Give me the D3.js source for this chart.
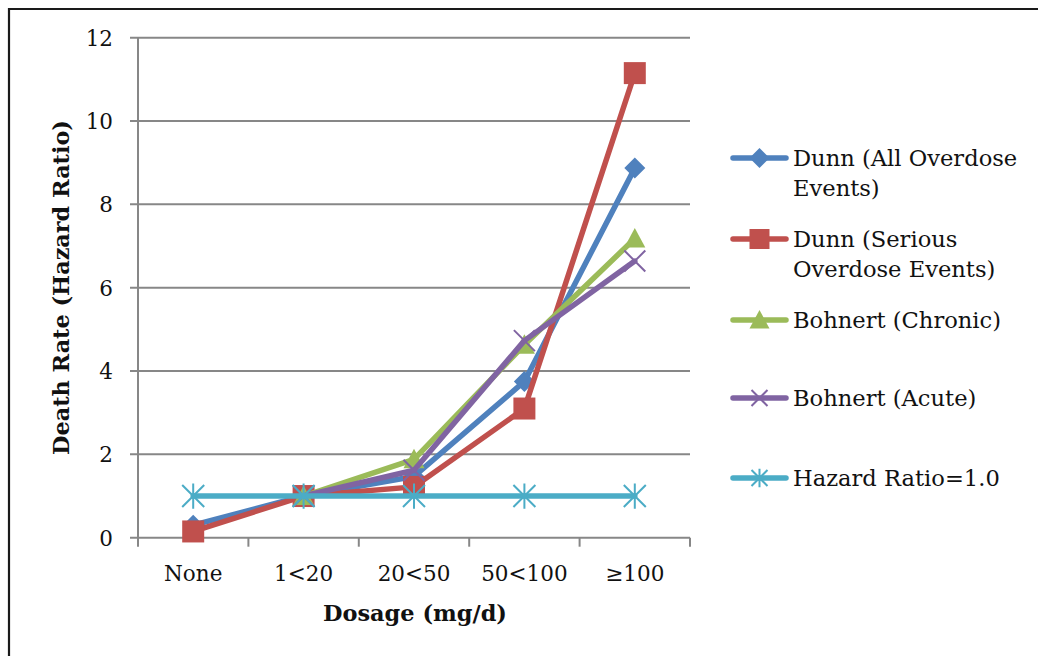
<!DOCTYPE html>
<html><head><meta charset="utf-8">
<script src="https://cdn.jsdelivr.net/npm/d3@7"></script>
<style>body{margin:0;background:#fff}svg{display:block}</style>
</head><body>
<svg id="c" width="1038" height="656"></svg>
<script>
const categories = ["None","1<20","20<50","50<100","\u2265100"];
const dunnAll = [0.3, 1.0, 1.47, 3.75, 8.87];
const dunnSerious = [0.15, 1.0, 1.22, 3.1, 11.15];
const bohnertChronic = [null, 1.0, 1.88, 4.63, 7.18];
const bohnertAcute = [null, 1.0, 1.62, 4.73, 6.64];
const hazardRef = [1, 1, 1, 1, 1];
const yTicks = [0,2,4,6,8,10,12];
const seriesNames = ["Dunn (All Overdose Events)","Dunn (Serious Overdose Events)","Bohnert (Chronic)","Bohnert (Acute)","Hazard Ratio=1.0"];
const legendLines = [["Dunn (All Overdose","Events)"],["Dunn (Serious","Overdose Events)"],["Bohnert (Chronic)"],["Bohnert (Acute)"],["Hazard Ratio=1.0"]];

const series = [
  {name:seriesNames[0], values:dunnAll, color:"#4F81BD", marker:"diamond"},
  {name:seriesNames[1], values:dunnSerious, color:"#C0504D", marker:"square"},
  {name:seriesNames[2], values:bohnertChronic, color:"#9BBB59", marker:"triangle"},
  {name:seriesNames[3], values:bohnertAcute, color:"#8064A2", marker:"x"},
  {name:seriesNames[4], values:hazardRef, color:"#4BACC6", marker:"star"}
];

const svg = d3.select("#c");
const font = "'DejaVu Serif', 'Liberation Serif', serif";
const m = {left:138, right:690, top:37.7, bottom:537.7};
const x = d3.scaleBand().domain(categories).range([m.left, m.right]);
const y = d3.scaleLinear().domain([0,12]).range([m.bottom, m.top]);

function fit(sel, target){
  const n = sel.node(); const w = n.getComputedTextLength();
  const fs = parseFloat(sel.attr("font-size"));
  if (w>0) sel.attr("font-size", (fs*target/w).toFixed(2));
  return sel;
}

svg.append("path").attr("d","M9,656 V9 H1038").attr("fill","none").attr("stroke","#1a1a1a").attr("stroke-width",2.2);

const gridC = "#878787";
svg.append("g").selectAll("line").data(yTicks).join("line")
  .attr("x1", m.left-8).attr("x2", m.right).attr("y1", d=>y(d)).attr("y2", d=>y(d))
  .attr("stroke", gridC).attr("stroke-width", 2);
svg.append("line").attr("x1",m.left).attr("x2",m.left).attr("y1",m.top).attr("y2",m.bottom+9).attr("stroke",gridC).attr("stroke-width",2);
const bounds = categories.map(c=>x(c)).concat([m.right]);
svg.append("g").selectAll("line").data(bounds.slice(1)).join("line")
  .attr("x1",d=>d).attr("x2",d=>d).attr("y1",m.bottom).attr("y2",m.bottom+9)
  .attr("stroke",gridC).attr("stroke-width",2);

svg.append("g").selectAll("text").data(yTicks).join("text")
  .attr("x", 113).attr("y", d=>y(d)+8).attr("text-anchor","end")
  .attr("font-family",font).attr("font-size",21.5).attr("fill","#111").text(d=>d);
svg.append("g").selectAll("text").data(categories).join("text")
  .attr("x", d=>x(d)+x.bandwidth()/2).attr("y", 581).attr("text-anchor","middle")
  .attr("font-family",font).attr("font-size",21.5).attr("fill","#111").text(d=>d);

fit(svg.append("text").attr("x", 415).attr("y", 621).attr("text-anchor","middle")
  .attr("font-family",font).attr("font-weight","bold").attr("font-size",23).attr("fill","#111").text("Dosage (mg/d)"), 184);
fit(svg.append("text").attr("transform",`translate(69,287.5) rotate(-90)`).attr("text-anchor","middle")
  .attr("font-family",font).attr("font-weight","bold").attr("font-size",23).attr("fill","#111").text("Death Rate (Hazard Ratio)"), 335);

function markerPath(type, s){
  const h = s/2;
  switch(type){
    case "diamond": return `M0,${-h}L${h},0L0,${h}L${-h},0Z`;
    case "square": return `M${-h},${-h}H${h}V${h}H${-h}Z`;
    case "triangle": return `M0,${-h}L${h},${h*0.85}H${-h}Z`;
    case "x": return `M${-h},${-h}L${h},${h}M${h},${-h}L${-h},${h}`;
    case "star": return `M${-h},${-h}L${h},${h}M${h},${-h}L${-h},${h}M0,${-h*1.15}V${h*1.15}`;
  }
}
function drawMarker(g, type, color, cx, cy, s){
  const p = g.append("path").attr("d", markerPath(type, s)).attr("transform",`translate(${cx},${cy})`);
  if(type==="x"||type==="star") p.attr("fill","none").attr("stroke",color).attr("stroke-width",2);
  else p.attr("fill",color).attr("stroke","none");
}

const line = d3.line().defined(d=>d.v!=null).x(d=>x(d.c)+x.bandwidth()/2).y(d=>y(d.v));
const sizes = {diamond:21, square:22, triangle:21, x:21, star:22};
series.forEach(s=>{
  const g = svg.append("g");
  const pts = categories.map((c,i)=>({c, v:s.values[i]}));
  g.append("path").attr("d", line(pts)).attr("fill","none").attr("stroke", s.color)
    .attr("stroke-width",5.5).attr("stroke-linejoin","round").attr("stroke-linecap","round");
  pts.filter(d=>d.v!=null).forEach(d=>drawMarker(g, s.marker, s.color, x(d.c)+x.bandwidth()/2, y(d.v), sizes[s.marker]));
});

const legY = [158, 239, 320, 398, 478];
series.forEach((s,i)=>{
  const g = svg.append("g");
  g.append("line").attr("x1",733).attr("x2",786).attr("y1",legY[i]).attr("y2",legY[i])
    .attr("stroke",s.color).attr("stroke-width",5.5).attr("stroke-linecap","round");
  drawMarker(g, s.marker, s.color, 759.5, legY[i], s.marker==="x"||s.marker==="star"?16:20);
  legendLines[i].forEach((t,j)=>{
    g.append("text").attr("x",793).attr("y",legY[i]+8+j*30).attr("font-family",font)
      .attr("font-size",22.6).attr("fill","#111").text(t);
  });
});
</script>
</body></html>
